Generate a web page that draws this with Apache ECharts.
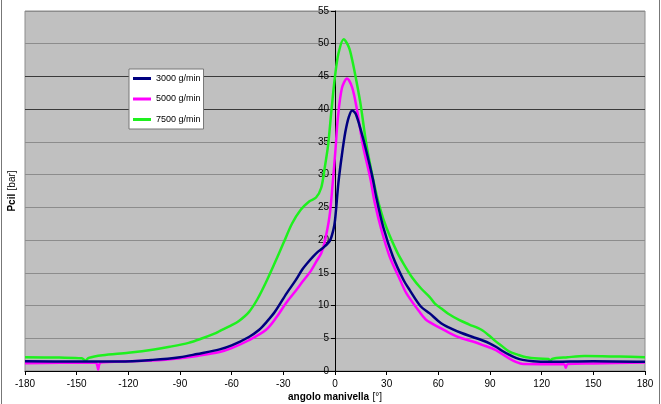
<!DOCTYPE html>
<html>
<head>
<meta charset="utf-8">
<script src="https://cdn.jsdelivr.net/npm/echarts@6/dist/echarts.min.js"></script>
<style>
html,body{margin:0;padding:0;background:#fff;}
#chart{width:661px;height:404px;}
</style>
</head>
<body>
<div id="chart"></div>
<script>
// crank angle ticks
const xTicks = [-180, -150, -120, -90, -60, -30, 0, 30, 60, 90, 120, 150, 180];
const yTicks = [0, 5, 10, 15, 20, 25, 30, 35, 40, 45, 50, 55];
const seriesNames = ['3000 g/min', '5000 g/min', '7500 g/min'];

// 3000 g/min
const angles3000 = [-180, -150, -125, -106, -90, -80, -67, -60, -50, -44, -40, -35, -28, -23, -19, -16, -13, -10, -7, -3, -1, 0, 2, 4, 6, 8, 10, 12, 15, 18, 22, 24, 28, 33.6, 39.8, 43.3, 49.7, 55, 61.6, 66.6, 73.5, 80, 85.4, 90, 93.4, 97, 101.3, 105, 109, 115, 123, 150, 180];
const p3000 = [1.5, 1.45, 1.45, 1.7, 2.1, 2.6, 3.3, 3.9, 5.2, 6.3, 7.4, 9.0, 11.9, 13.8, 15.5, 16.5, 17.4, 18.2, 18.8, 19.9, 21.5, 23.0, 28.8, 33.0, 36.5, 38.8, 39.8, 39.3, 36.8, 33.8, 29.3, 26.5, 22.0, 17.5, 13.9, 12.4, 9.9, 8.8, 7.3, 6.6, 5.8, 5.2, 4.7, 4.2, 3.7, 3.1, 2.45, 2.0, 1.7, 1.5, 1.4, 1.5, 1.4];

// 5000 g/min
const angles5000 = [-180, -160, -139, -138, -137.5, -137, -136, -120, -106, -90, -80, -67, -60, -50, -40, -34, -28.4, -23, -18.7, -14, -10.9, -8, -6.1, -3.2, -1.3, 0.3, 1.6, 4, 7, 10, 12.7, 16.2, 20.6, 23, 27, 31.7, 37.8, 41.4, 49.7, 53, 61.6, 66.6, 73.5, 80, 85.4, 93.4, 97, 101.3, 105, 109.2, 120, 133, 134, 135, 150, 180];
const p5000 = [1.2, 1.25, 1.3, 0.8, 0.2, 0.9, 1.3, 1.5, 1.6, 1.95, 2.3, 2.9, 3.5, 4.7, 6.3, 8.2, 10.4, 12.2, 13.7, 15.3, 16.7, 18.0, 19.6, 23.6, 28.8, 33.9, 38.5, 43.2, 44.7, 43.3, 40.0, 34.5, 29.3, 25.8, 21.5, 17.5, 13.9, 11.9, 8.8, 7.8, 6.5, 5.8, 5.0, 4.5, 4.0, 3.2, 2.6, 1.9, 1.4, 1.07, 1.05, 1.05, 0.5, 1.05, 1.15, 1.3];

// 7500 g/min
const angles7500 = [-180, -160, -147, -145, -143, -135, -120, -105, -96, -85, -77, -70, -67, -60, -56, -50, -45, -40, -35, -30, -25, -20, -15, -11, -8, -6, -4, -2, 0, 2, 5, 8, 10, 13, 15, 18, 22, 26, 30, 36, 40, 45, 50, 55, 58, 62, 66, 72, 78, 85, 90, 93, 97, 101, 106, 111, 118, 124, 125, 126, 135, 145, 165, 180];
const p7500 = [2.1, 2.05, 1.95, 1.6, 2.0, 2.4, 2.8, 3.3, 3.7, 4.3, 5.0, 5.7, 6.1, 7.0, 7.6, 9.0, 11.0, 13.6, 16.5, 19.5, 22.5, 24.6, 25.9, 26.5, 28.0, 31.0, 34.5, 40.0, 45.0, 48.5, 50.7, 49.5, 47.5, 43.5, 40.5, 35.0, 29.5, 25.0, 21.8, 18.2, 16.3, 14.2, 12.6, 11.3, 10.3, 9.5, 8.7, 7.8, 7.1, 6.3, 5.3, 4.6, 3.8, 3.0, 2.5, 2.1, 1.9, 1.85, 1.4, 1.85, 2.1, 2.3, 2.2, 2.1];

const colors = ['#000080', '#ff00ff', '#1ef01e'];
const FONT = 'Liberation Sans, Arial, sans-serif';

function pairs(xs, ys) { return xs.map((x, i) => [x, ys[i]]); }

const gridLineColors = yTicks.map(v => (v === 40 || v === 45) ? '#3a3a3a' : '#8c8c8c');

const chart = echarts.init(document.getElementById('chart'), null, {renderer: 'canvas'});
chart.setOption({
  animation: false,
  backgroundColor: '#ffffff',
  color: colors,
  textStyle: {fontFamily: FONT},
  grid: {
    left: 25, right: 16, top: 11, bottom: 33,
    containLabel: false,
    outerBoundsMode: 'none',
    show: true, backgroundColor: '#c0c0c0', borderColor: '#8c8c8c', borderWidth: 1
  },
  graphic: [
    {type: 'line', shape: {x1: 1.5, y1: 0, x2: 1.5, y2: 404}, style: {stroke: '#777', lineWidth: 1}},
    {type: 'line', shape: {x1: 659.5, y1: 0, x2: 659.5, y2: 404}, style: {stroke: '#777', lineWidth: 1}}
  ],
  legend: {
    orient: 'vertical',
    left: 129, top: 69,
    padding: [5, 3, 5, 4],
    itemGap: 11.5,
    itemWidth: 18, itemHeight: 3,
    icon: 'rect',
    backgroundColor: '#ffffff',
    borderColor: '#777',
    borderWidth: 1,
    textStyle: {fontFamily: FONT, fontSize: 9, color: '#000'},
    data: seriesNames
  },
  xAxis: {
    type: 'value',
    min: -180, max: 180, interval: 30,
    name: '{b|angolo manivella} {n|[°]}',
    nameLocation: 'middle',
    nameGap: 20,
    nameMoveOverlap: false,
    nameTextStyle: {
      rich: {
        b: {fontFamily: FONT, fontSize: 10, fontWeight: 'bold', color: '#000'},
        n: {fontFamily: FONT, fontSize: 10, color: '#000'}
      }
    },
    axisLine: {onZero: false, lineStyle: {color: '#000', width: 1}},
    axisTick: {show: true, inside: false, length: 4, lineStyle: {color: '#000'}},
    axisLabel: {fontFamily: FONT, fontSize: 10, color: '#000', margin: 8,
      formatter: v => String(v)},
    splitLine: {show: false}
  },
  yAxis: {
    type: 'value',
    position: 'left',
    offset: -310,
    min: 0, max: 55, interval: 5,
    name: '{b|Pcil} {n|[bar]}',
    nameLocation: 'middle',
    nameGap: 317,
    nameMoveOverlap: false,
    nameRotate: 90,
    nameTextStyle: {
      rich: {
        b: {fontFamily: FONT, fontSize: 10, fontWeight: 'bold', color: '#000'},
        n: {fontFamily: FONT, fontSize: 10, color: '#000'}
      }
    },
    axisLine: {show: true, onZero: false, lineStyle: {color: '#000', width: 1}},
    axisTick: {show: true, inside: false, length: 4, lineStyle: {color: '#000'}},
    axisLabel: {fontFamily: FONT, fontSize: 10, color: '#000', margin: 6},
    splitLine: {show: true, lineStyle: {color: gridLineColors, width: 1}}
  },
  series: [
    {name: seriesNames[0], type: 'line', data: pairs(angles3000, p3000), showSymbol: false, smooth: 0.3,
      lineStyle: {width: 2.5, color: colors[0]}, itemStyle: {color: colors[0]}, z: 3},
    {name: seriesNames[1], type: 'line', data: pairs(angles5000, p5000), showSymbol: false, smooth: 0.3,
      lineStyle: {width: 2.5, color: colors[1]}, itemStyle: {color: colors[1]}, z: 2},
    {name: seriesNames[2], type: 'line', data: pairs(angles7500, p7500), showSymbol: false, smooth: 0.3,
      lineStyle: {width: 2.5, color: colors[2]}, itemStyle: {color: colors[2]}, z: 1}
  ]
});
</script>
</body>
</html>
